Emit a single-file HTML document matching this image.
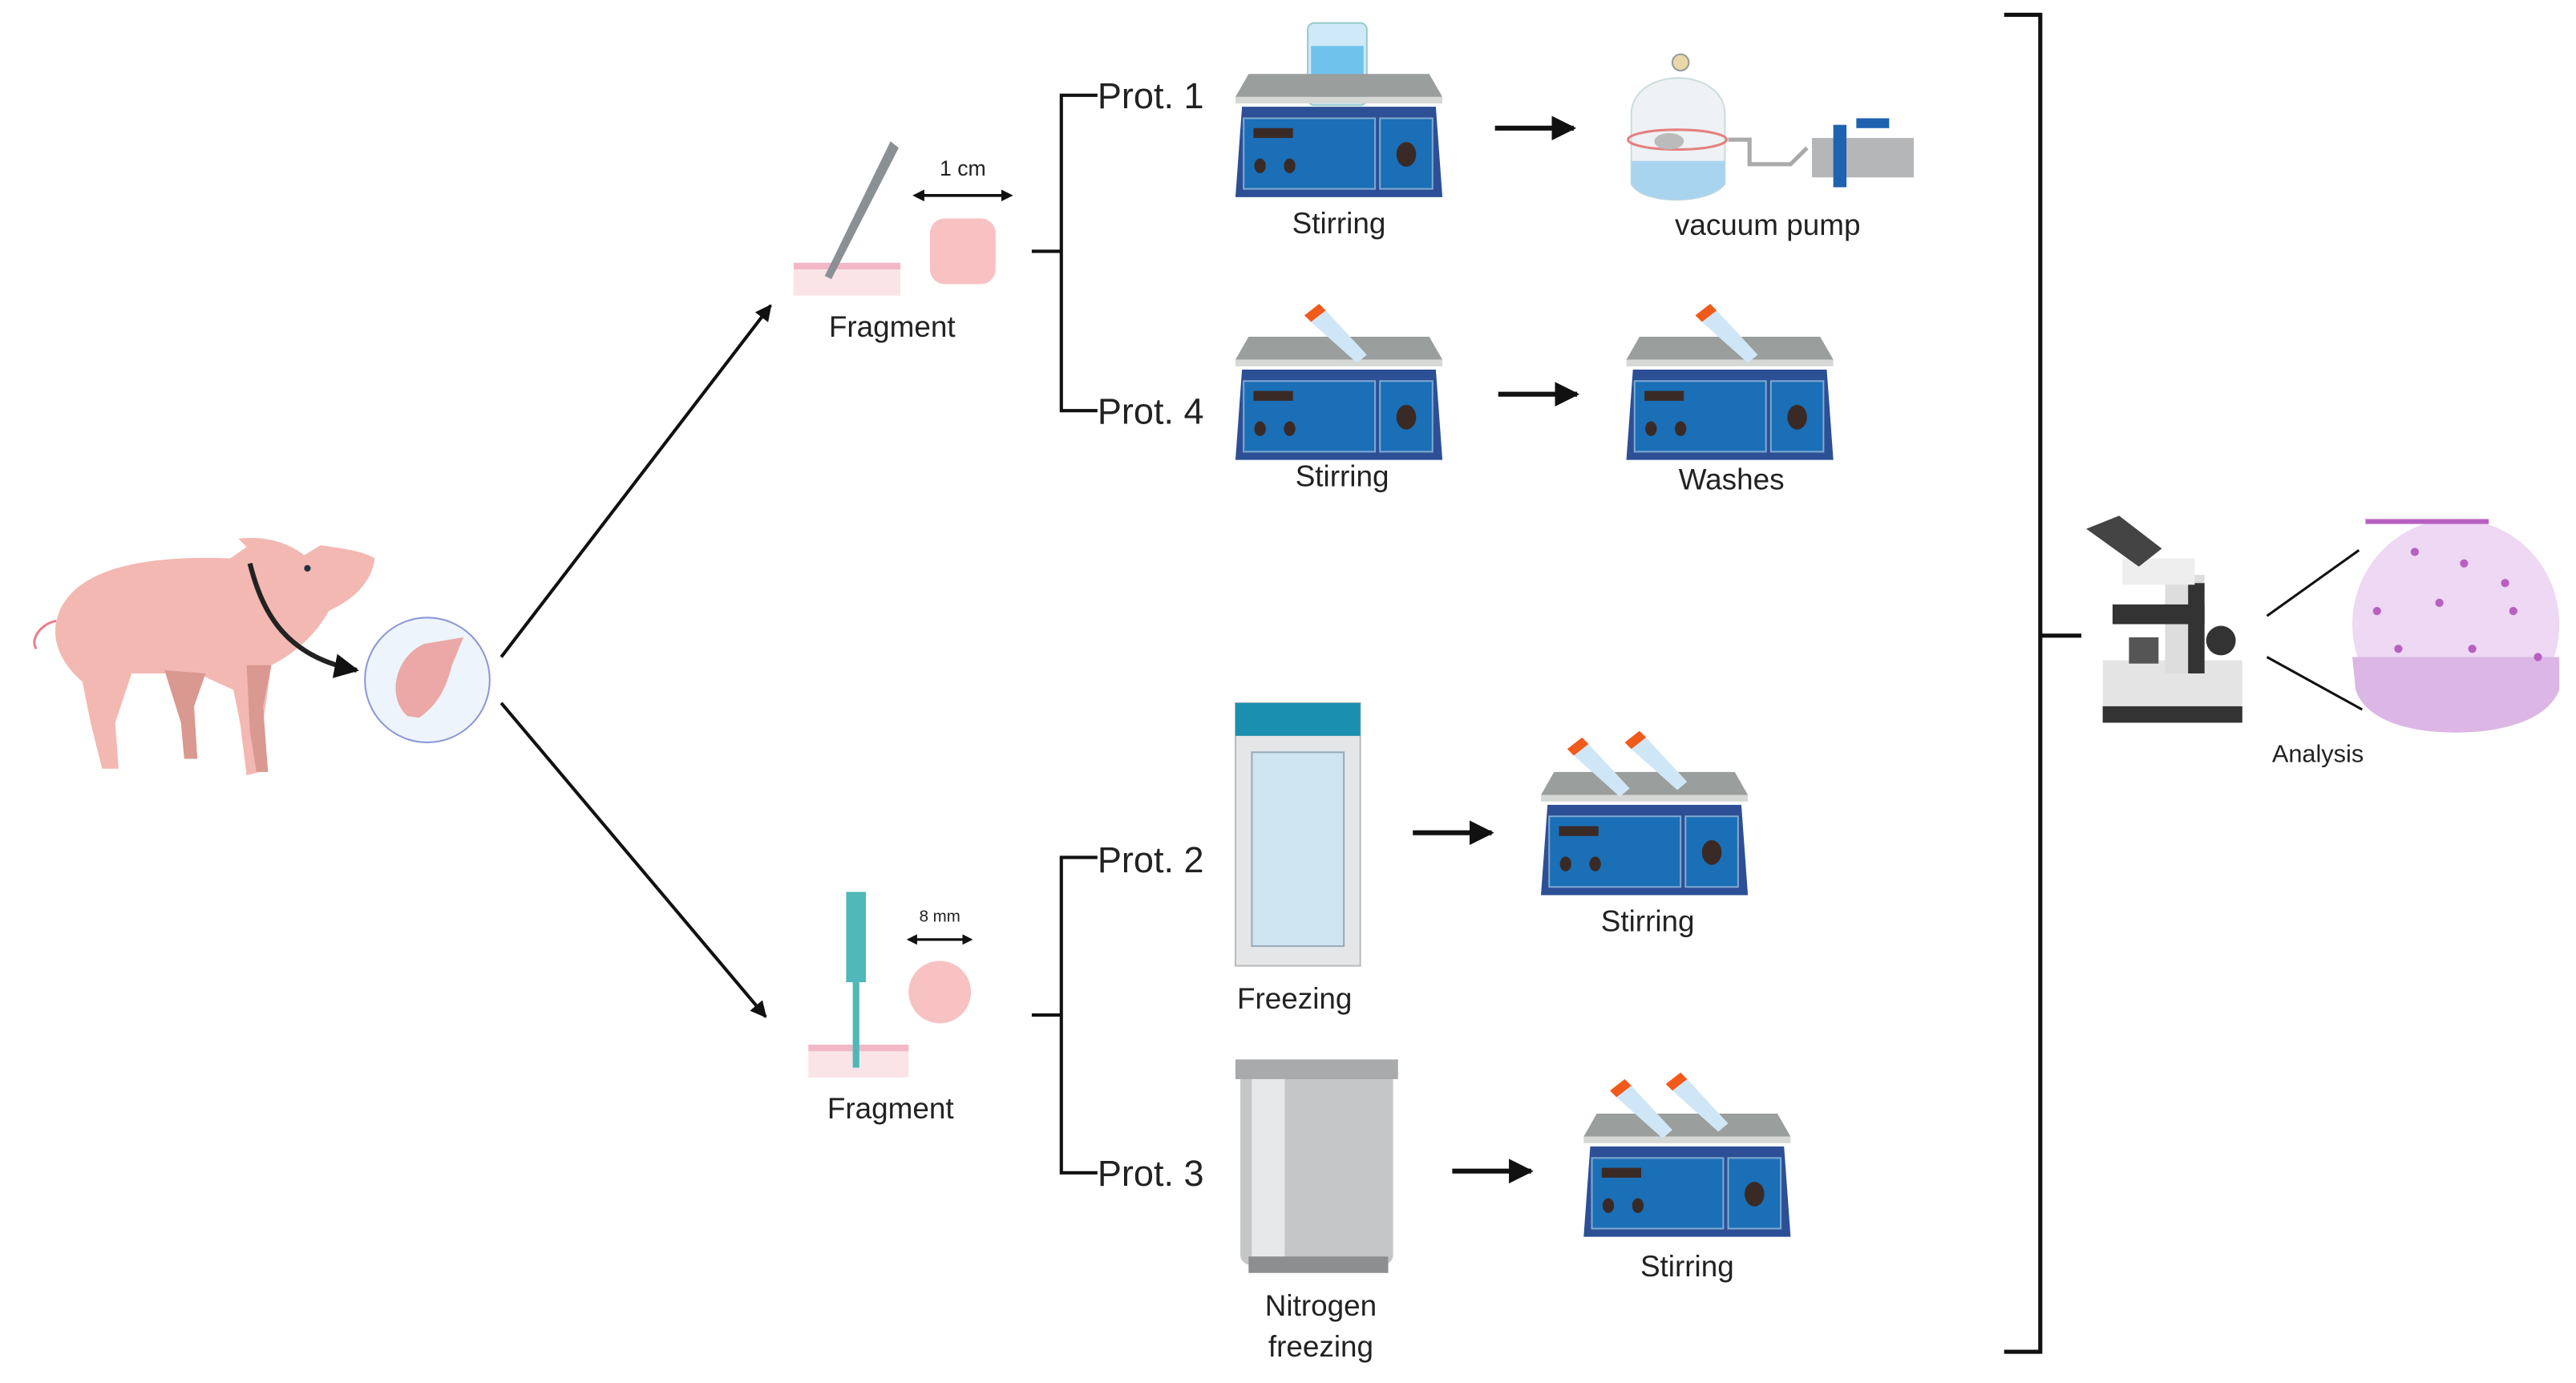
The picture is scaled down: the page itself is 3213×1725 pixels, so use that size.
<!DOCTYPE html>
<html><head><meta charset="utf-8"><style>
html,body{margin:0;padding:0;background:#fff;}
svg{display:block;}
text{font-family:"Liberation Sans",sans-serif;fill:#222;}
</style></head><body>
<svg width="3213" height="1725" viewBox="0 0 1568 842" xmlns="http://www.w3.org/2000/svg">
<defs>
<marker id="ah" viewBox="0 0 10 10" refX="9" refY="5" markerWidth="5" markerHeight="5" orient="auto"><path d="M0,0L10,5L0,10z" fill="#111"/></marker>
<marker id="ah2" viewBox="0 0 10 10" refX="5" refY="5" markerWidth="4" markerHeight="4" orient="auto-start-reverse"><path d="M0,0L10,5L0,10z" fill="#111"/></marker>
<g id="stir">
<path d="M8,0L118,0L126,14L0,14z" fill="#9a9e9c"/>
<rect x="0" y="14" width="126" height="4" fill="#d6d8d6"/>
<path d="M4,20L122,20L126,75L0,75z" fill="#2c4f96"/>
<rect x="5" y="27" width="80" height="43" fill="#1a6fb6" stroke="#7fa8d0" stroke-width="1"/>
<rect x="88" y="27" width="32" height="43" fill="#1a6fb6" stroke="#7fa8d0" stroke-width="1"/>
<rect x="11" y="33" width="24" height="6" fill="#3a2a26"/>
<ellipse cx="15" cy="56" rx="3.5" ry="4.5" fill="#3a2a26"/>
<ellipse cx="33" cy="56" rx="3.5" ry="4.5" fill="#3a2a26"/>
<ellipse cx="104" cy="49" rx="6" ry="7.5" fill="#3a2a26"/>
</g>
<g id="tube">
<path d="M0,0L9,-7L34,20L28,25z" fill="#cfe6f6"/>
<path d="M0,0L9,-7L5,-11L-4,-4z" fill="#f05a1a"/>
</g>
</defs>

<!-- pig -->
<g>
<path d="M35,375 C45,345 90,338 140,340 L150,333 L145,328 C160,326 175,330 185,338 L195,332 C210,334 222,336 228,340 C226,355 215,365 200,372 C190,390 175,400 165,405 L160,440 L158,470 L150,472 L146,440 L142,420 L120,410 L80,410 L70,440 L72,468 L62,468 L55,440 L50,415 C38,405 30,390 35,375z" fill="#f3b8b1"/>
<path d="M100,408 L110,440 L112,462 L120,462 L118,430 L125,410z" fill="#d99890"/>
<path d="M150,405 L152,445 L156,470 L163,470 L160,430 L165,405z" fill="#d99890"/>
<circle cx="187" cy="346" r="2" fill="#234"/>
<path d="M34,378 C24,380 18,390 22,395" stroke="#e87f8a" stroke-width="1.5" fill="none"/>
</g>
<path d="M152,343 C160,375 175,400 217,408" stroke="#222" stroke-width="3" fill="none" marker-end="url(#ah)"/>
<circle cx="260" cy="414" r="38" fill="#eef4fb" stroke="#8c98d8" stroke-width="1"/>
<path d="M248,436 C235,425 240,400 258,392 L282,388 L275,405 C270,425 262,432 255,437z" fill="#eba8a6"/>

<line x1="305" y1="400" x2="469" y2="186" stroke="#111" stroke-width="2" marker-end="url(#ah)"/>
<line x1="305" y1="428" x2="466" y2="619" stroke="#111" stroke-width="2" marker-end="url(#ah)"/>

<rect x="483" y="160" width="65" height="20" fill="#fbe4e8"/>
<rect x="483" y="160" width="65" height="4" fill="#f3b8c8"/>
<path d="M542,86 L547,90 L506,170 L502,168z" fill="#8a9094"/>
<rect x="566" y="133" width="40" height="40" rx="9" fill="#f8c2c2"/>
<text x="586" y="107" font-size="13" text-anchor="middle">1 cm</text>
<line x1="559" y1="119" x2="613" y2="119" stroke="#111" stroke-width="1.8" marker-start="url(#ah2)" marker-end="url(#ah2)"/>
<text x="543" y="205" font-size="18" text-anchor="middle">Fragment</text>

<path d="M628,153H646M668,58H646V250H668" stroke="#111" stroke-width="2" fill="none"/>
<text x="668" y="66" font-size="22">Prot. 1</text>
<text x="668" y="258" font-size="22">Prot. 4</text>

<rect x="796" y="14" width="36" height="50" rx="4" fill="#cfe9f8" stroke="#9cc" stroke-width="1"/>
<rect x="798" y="28" width="32" height="34" fill="#6fc2ec"/>
<use href="#stir" x="752" y="45"/>
<text x="815" y="142" font-size="18" text-anchor="middle">Stirring</text>
<line x1="910" y1="78" x2="958" y2="78" stroke="#111" stroke-width="3" marker-end="url(#ah)"/>
<path d="M993,70 C993,40 1050,40 1050,70 L1050,112 C1040,125 1000,125 993,112z" fill="#eef2f4" stroke="#cdd" stroke-width="1"/>
<path d="M993,98 L1050,98 L1050,112 C1040,125 1000,125 993,112z" fill="#a9d4ef"/>
<ellipse cx="1021" cy="85" rx="30" ry="6" fill="none" stroke="#e58080" stroke-width="1.5"/>
<ellipse cx="1016" cy="86" rx="9" ry="5" fill="#bbb"/>
<circle cx="1023" cy="38" r="5" fill="#e8d8a8" stroke="#999"/>
<path d="M1052,85 L1065,85 L1065,100 L1090,100 L1100,90" stroke="#aaa" stroke-width="2.5" fill="none"/>
<rect x="1103" y="84" width="62" height="24" fill="#b4b6b8"/>
<rect x="1116" y="76" width="8" height="38" fill="#1e62b0"/>
<rect x="1130" y="72" width="20" height="6" fill="#1e62b0"/>
<text x="1076" y="143" font-size="18" text-anchor="middle">vacuum pump</text>

<use href="#stir" x="752" y="205"/>
<use href="#tube" x="798" y="196"/>
<text x="817" y="296" font-size="18" text-anchor="middle">Stirring</text>
<line x1="912" y1="240" x2="960" y2="240" stroke="#111" stroke-width="3" marker-end="url(#ah)"/>
<use href="#stir" x="990" y="205"/>
<use href="#tube" x="1036" y="196"/>
<text x="1054" y="298" font-size="18" text-anchor="middle">Washes</text>

<rect x="492" y="636" width="61" height="20" fill="#fbe4e8"/>
<rect x="492" y="636" width="61" height="4" fill="#f3b8c8"/>
<rect x="515" y="543" width="12" height="55" fill="#4fb8b8"/>
<rect x="519" y="598" width="4" height="52" fill="#4fb8b8"/>
<circle cx="572" cy="604" r="19" fill="#f8c2c2"/>
<text x="572" y="561" font-size="10" text-anchor="middle">8 mm</text>
<line x1="555" y1="572" x2="589" y2="572" stroke="#111" stroke-width="1.6" marker-start="url(#ah2)" marker-end="url(#ah2)"/>
<text x="542" y="681" font-size="18" text-anchor="middle">Fragment</text>

<path d="M628,618H646M668,522H646V714H668" stroke="#111" stroke-width="2" fill="none"/>
<text x="668" y="531" font-size="22">Prot. 2</text>
<text x="668" y="722" font-size="22">Prot. 3</text>

<rect x="752" y="428" width="76" height="160" fill="#e4e6e8" stroke="#bbb"/>
<rect x="752" y="428" width="76" height="20" fill="#1a8fb0"/>
<rect x="762" y="458" width="56" height="118" fill="#cfe6f2" stroke="#9ab" stroke-width="1"/>
<text x="788" y="614" font-size="18" text-anchor="middle">Freezing</text>
<line x1="860" y1="507" x2="908" y2="507" stroke="#111" stroke-width="3" marker-end="url(#ah)"/>
<use href="#stir" x="938" y="470"/>
<use href="#tube" x="958" y="460"/>
<use href="#tube" x="993" y="456"/>
<text x="1003" y="567" font-size="18" text-anchor="middle">Stirring</text>

<rect x="755" y="650" width="93" height="120" rx="6" fill="#c4c6c8"/>
<rect x="762" y="655" width="20" height="112" fill="#e6e8ea"/>
<rect x="752" y="645" width="99" height="12" fill="#a8aaac"/>
<rect x="760" y="765" width="85" height="10" fill="#8c8e90"/>
<text x="804" y="801" font-size="18" text-anchor="middle">Nitrogen</text>
<text x="804" y="826" font-size="18" text-anchor="middle">freezing</text>
<line x1="884" y1="713" x2="932" y2="713" stroke="#111" stroke-width="3" marker-end="url(#ah)"/>
<use href="#stir" x="964" y="678"/>
<use href="#tube" x="984" y="668"/>
<use href="#tube" x="1018" y="664"/>
<text x="1027" y="777" font-size="18" text-anchor="middle">Stirring</text>

<path d="M1220,9H1242V823H1220M1242,387H1267" stroke="#111" stroke-width="2.5" fill="none"/>

<g>
<rect x="1280" y="402" width="85" height="32" fill="#e4e4e4"/>
<rect x="1280" y="430" width="85" height="10" fill="#333"/>
<rect x="1318" y="350" width="24" height="60" fill="#ddd"/>
<rect x="1332" y="355" width="10" height="55" fill="#333"/>
<rect x="1286" y="368" width="56" height="12" fill="#333"/>
<rect x="1292" y="340" width="44" height="16" fill="#eee"/>
<path d="M1270,322 L1290,314 L1316,334 L1302,345z" fill="#444"/>
<rect x="1296" y="388" width="18" height="16" fill="#555"/>
<circle cx="1352" cy="390" r="9" fill="#333"/>
</g>
<line x1="1380" y1="375" x2="1436" y2="335" stroke="#111" stroke-width="1.5"/>
<line x1="1380" y1="400" x2="1438" y2="432" stroke="#111" stroke-width="1.5"/>
<ellipse cx="1495" cy="380" rx="63" ry="64" fill="#eed8f4"/>
<path d="M1432,400 L1558,400 L1558,420 C1550,440 1520,446 1495,446 C1465,446 1440,438 1434,420z" fill="#dcb6e4"/>
<g fill="#b860c0">
<circle cx="1470" cy="336" r="2.5"/><circle cx="1500" cy="343" r="2.5"/><circle cx="1525" cy="355" r="2.5"/>
<circle cx="1447" cy="372" r="2.5"/><circle cx="1485" cy="367" r="2.5"/><circle cx="1530" cy="372" r="2.5"/>
<circle cx="1460" cy="395" r="2.5"/><circle cx="1505" cy="395" r="2.5"/><circle cx="1545" cy="400" r="2.5"/>
<rect x="1440" y="316" width="75" height="3"/>
</g>
<text x="1411" y="464" font-size="15" text-anchor="middle">Analysis</text>
</svg>
</body></html>
